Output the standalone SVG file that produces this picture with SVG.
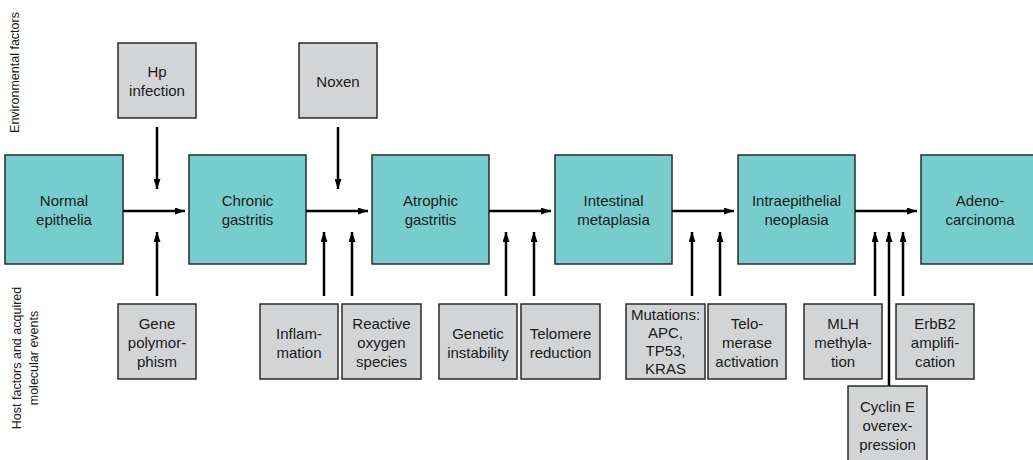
<svg xmlns="http://www.w3.org/2000/svg" width="1033" height="460" viewBox="0 0 1033 460">
<defs>
<marker id="ah" viewBox="0 0 10 7" refX="10" refY="3.5" markerWidth="10" markerHeight="7" markerUnits="userSpaceOnUse" orient="auto">
<path d="M0,0 L10,3.5 L0,7 Z" fill="#000"/>
</marker>
</defs>
<style>
.main{fill:#77cdcd;stroke:#2b2b2b;stroke-width:1.5}
.fac{fill:#d3d4d6;stroke:#2b2b2b;stroke-width:1.5}
text{font-family:"Liberation Sans",Arial,sans-serif;font-size:15px;fill:#1a1a1a;text-anchor:middle}
.side{font-size:12.5px}
.c line{stroke:#000;stroke-width:2.5;marker-end:url(#ah)}
</style>
<rect width="1033" height="460" fill="#fff"/>
<g id="labels">
<text class="side" transform="translate(19,72.5) rotate(-90)">Environmental factors</text>
<text class="side" transform="translate(20.5,358) rotate(-90)">Host factors and acquired</text>
<text class="side" transform="translate(37.5,358) rotate(-90)">molecular events</text>
</g>
<g id="n-normal"><rect class="main" x="5" y="155" width="118" height="109"/><text x="64" y="206">Normal</text><text x="64" y="225">epithelia</text></g>
<g id="n-chronic"><rect class="main" x="189" y="155" width="117" height="109"/><text x="247.5" y="206">Chronic</text><text x="247.5" y="225">gastritis</text></g>
<g id="n-atrophic"><rect class="main" x="372" y="155" width="117" height="109"/><text x="430.5" y="206">Atrophic</text><text x="430.5" y="225">gastritis</text></g>
<g id="n-intestinal"><rect class="main" x="555" y="155" width="117" height="109"/><text x="613.5" y="206">Intestinal</text><text x="613.5" y="225">metaplasia</text></g>
<g id="n-intraepi"><rect class="main" x="738" y="155" width="117" height="109"/><text x="796.5" y="206">Intraepithelial</text><text x="796.5" y="225">neoplasia</text></g>
<g id="n-adeno"><rect class="main" x="921" y="155" width="130" height="109"/><text x="980" y="206">Adeno-</text><text x="980" y="225">carcinoma</text></g>
<g id="f-hp"><rect class="fac" x="118" y="43" width="78" height="75"/><text x="157" y="77">Hp</text><text x="157" y="96">infection</text></g>
<g id="f-noxen"><rect class="fac" x="299" y="43" width="78" height="75"/><text x="338" y="87">Noxen</text></g>
<g id="f-gene"><rect class="fac" x="118" y="304" width="78" height="75"/><text x="157" y="329">Gene</text><text x="157" y="348">polymor-</text><text x="157" y="366.5">phism</text></g>
<g id="f-inflam"><rect class="fac" x="260" y="304" width="78" height="75"/><text x="299" y="338.5">Inflam-</text><text x="299" y="357.5">mation</text></g>
<g id="f-ros"><rect class="fac" x="342" y="304" width="79" height="75"/><text x="381.5" y="329">Reactive</text><text x="381.5" y="348">oxygen</text><text x="381.5" y="366.5">species</text></g>
<g id="f-genetic"><rect class="fac" x="439" y="304" width="78" height="75"/><text x="478" y="338.5">Genetic</text><text x="478" y="357.5">instability</text></g>
<g id="f-telomere"><rect class="fac" x="521" y="304" width="79" height="75"/><text x="560.5" y="338.5">Telomere</text><text x="560.5" y="357.5">reduction</text></g>
<g id="f-mut"><rect class="fac" x="626" y="304" width="79" height="75"/><text x="665.5" y="320">Mutations:</text><text x="665.5" y="338">APC,</text><text x="665.5" y="356">TP53,</text><text x="665.5" y="374">KRAS</text></g>
<g id="f-telomerase"><rect class="fac" x="708" y="304" width="78" height="75"/><text x="747" y="329">Telo-</text><text x="747" y="348">merase</text><text x="747" y="366.5">activation</text></g>
<g id="f-mlh"><rect class="fac" x="804" y="304" width="78" height="75"/><text x="843" y="329">MLH</text><text x="843" y="348">methyla-</text><text x="843" y="366.5">tion</text></g>
<g id="f-erbb2"><rect class="fac" x="896" y="304" width="78" height="75"/><text x="935" y="329">ErbB2</text><text x="935" y="348">amplifi-</text><text x="935" y="366.5">cation</text></g>
<g id="f-cyclin"><rect class="fac" x="848" y="386" width="79" height="84"/><text x="887.5" y="412">Cyclin E</text><text x="887.5" y="431">overex-</text><text x="887.5" y="449.5">pression</text></g>
<g class="c" id="connectors">
<line x1="123" y1="211" x2="185" y2="211"/>
<line x1="306" y1="211" x2="368" y2="211"/>
<line x1="489" y1="211" x2="551" y2="211"/>
<line x1="672" y1="211" x2="734" y2="211"/>
<line x1="855" y1="211" x2="917" y2="211"/>
<line x1="157" y1="127" x2="157" y2="189"/>
<line x1="338" y1="127" x2="338" y2="189"/>
<line x1="157" y1="296" x2="157" y2="232"/>
<line x1="324" y1="296" x2="324" y2="232"/>
<line x1="352" y1="296" x2="352" y2="232"/>
<line x1="506" y1="296" x2="506" y2="232"/>
<line x1="534" y1="296" x2="534" y2="232"/>
<line x1="692" y1="296" x2="692" y2="232"/>
<line x1="720" y1="296" x2="720" y2="232"/>
<line x1="875" y1="296" x2="875" y2="232"/>
<line x1="889" y1="386" x2="889" y2="232"/>
<line x1="903" y1="296" x2="903" y2="232"/>
</g>
</svg>
